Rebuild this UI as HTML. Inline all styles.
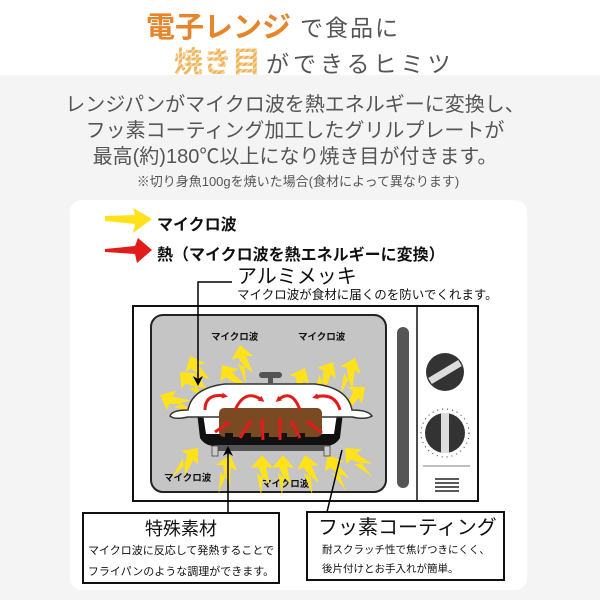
<!DOCTYPE html>
<html><head><meta charset="utf-8"><style>
body{margin:0;width:600px;height:600px;overflow:hidden;background:#f4f4f4;font-family:"Liberation Sans","Noto Sans CJK JP",sans-serif}
svg{display:block}
</style></head><body>
<svg width="600" height="600" viewBox="0 0 600 600" xmlns="http://www.w3.org/2000/svg" font-family="'Liberation Sans','Noto Sans CJK JP',sans-serif">
<defs>
<path id="ya" d="M0,0 L11,13 L4,12 L8,30 L1,22 L-1,40 L-5,18 L1,23 L-4,12 L-11,13 Z" fill="#ffe21a"/>
<marker id="rh" markerWidth="6" markerHeight="6" refX="3" refY="3" orient="auto" markerUnits="userSpaceOnUse"><path d="M0,0 L6,3 L0,6 Z" fill="#e21b1b"/></marker>
<marker id="bh" markerWidth="10" markerHeight="10" refX="8" refY="5" orient="auto" markerUnits="userSpaceOnUse"><path d="M0,0 L10,5 L0,10 L3,5 Z" fill="#000"/></marker>
<pattern id="st" width="4" height="4" patternUnits="userSpaceOnUse" patternTransform="rotate(45)"><rect width="4" height="4" fill="#f0b45a"/><rect width="1.5" height="4" fill="#f8d9a5"/></pattern>
</defs>
<rect x="0" y="0" width="600" height="75" fill="#fff"/>
<text x="146" y="37" font-size="29" font-weight="bold" fill="#e8842a">電子レンジ</text>
<text x="300" y="36" font-size="23" fill="#555" letter-spacing="2">で食品に</text>
<text x="174" y="72" font-size="29" font-weight="bold" fill="url(#st)">焼き目</text>
<text x="266" y="72" font-size="23" fill="#555" letter-spacing="4">ができるヒミツ</text>
<g font-size="20" fill="#555" text-anchor="middle">
<text x="295" y="111">レンジパンがマイクロ波を熱エネルギーに変換し、</text>
<text x="295" y="137">フッ素コーティング加工したグリルプレートが</text>
<text x="295" y="163">最高(約)180℃以上になり焼き目が付きます。</text>
</g>
<text x="298" y="186" font-size="13" fill="#555" text-anchor="middle">※切り身魚100gを焼いた場合(食材によって異なります)</text>
<rect x="70" y="200" width="457" height="390" rx="12" fill="#fff"/>
<polygon points="105,216 135,215 133,208 152,219 133,233 135,224 105,221" fill="#ffe21a"/>
<text x="157" y="230" font-size="16" font-weight="bold" fill="#111">マイクロ波</text>
<polygon points="105,249 135,246 138,238 152,250 137,263 135,254 105,252" fill="#e21b1b"/>
<text x="157" y="260" font-size="16" font-weight="bold" fill="#111">熱（マイクロ波を熱エネルギーに変換）</text>
<text x="237" y="283" font-size="20" fill="#111">アルミメッキ</text>
<text x="237" y="299" font-size="12.5" fill="#111">マイクロ波が食材に届くのを防いでくれます。</text>
<rect x="133" y="306" width="345" height="195" fill="#fff" stroke="#111" stroke-width="2"/>
<line x1="417" y1="306" x2="417" y2="501" stroke="#111" stroke-width="1.5"/>
<rect x="151" y="315" width="235" height="177" rx="12" fill="#c5c5c5" stroke="#222" stroke-width="2"/>
<rect x="397" y="327" width="12" height="161" rx="6" fill="#555"/>
<circle cx="445" cy="372" r="19" fill="#333"/>
<line x1="430" y1="381" x2="460" y2="363" stroke="#ddd" stroke-width="7"/>
<circle cx="445" cy="433" r="24" fill="none" stroke="#333" stroke-width="1" stroke-dasharray="1 4"/>
<circle cx="445" cy="433" r="20" fill="#333"/>
<rect x="441" y="413" width="8" height="40" fill="#ddd"/>
<line x1="423" y1="466" x2="470" y2="466" stroke="#aaa" stroke-width="1.5"/>
<g stroke="#222" stroke-width="1.5"><line x1="435" y1="479" x2="459" y2="479"/><line x1="435" y1="483" x2="459" y2="483"/><line x1="435" y1="487" x2="459" y2="487"/><line x1="435" y1="491" x2="459" y2="491"/></g>
<g font-size="9.5" font-weight="bold" fill="#111">
<text x="211" y="340">マイクロ波</text><text x="298" y="340">マイクロ波</text>
<text x="164" y="481">マイクロ波</text><text x="262" y="487">マイクロ波</text>
</g>
<g>
<use href="#ya" transform="translate(180,372) rotate(-45)"/>
<use href="#ya" transform="translate(160,395) rotate(-65)"/>
<use href="#ya" transform="translate(190,356) rotate(-25)"/>
<use href="#ya" transform="translate(222,365) rotate(-35)"/>
<use href="#ya" transform="translate(240,345) rotate(-10)"/>
<use href="#ya" transform="translate(305,368) rotate(25)"/>
<use href="#ya" transform="translate(333,362) rotate(30)"/>
<use href="#ya" transform="translate(365,387) rotate(50)"/>
<use href="#ya" transform="translate(355,358) rotate(20)"/>
<use href="#ya" transform="translate(198,448) rotate(40)"/>
<use href="#ya" transform="translate(230,455) rotate(15)"/>
<use href="#ya" transform="translate(262,455) rotate(0)"/>
<use href="#ya" transform="translate(283,455) rotate(0)"/>
<use href="#ya" transform="translate(305,455) rotate(-12)"/>
<use href="#ya" transform="translate(328,455) rotate(-28)"/>
<use href="#ya" transform="translate(345,448) rotate(-45)"/>
</g>
<path d="M197,412 L343,412 L340,438 Q335,446 325,446 L215,446 Q205,446 200,438 Z" fill="#111"/>
<path d="M203,414 L337,414 L334,434 L206,434 Z" fill="#fff"/>
<rect x="214" y="445" width="115" height="6" fill="#555"/>
<rect x="212" y="446" width="6" height="10" fill="#ccc" stroke="#444" stroke-width="0.8"/>
<rect x="324" y="446" width="6" height="10" fill="#ccc" stroke="#444" stroke-width="0.8"/>
<path d="M170,416 Q172,410 188,410 Q192,388 225,384 L315,384 Q348,388 352,410 Q368,410 372,416 Q366,420 352,417 L188,417 Q174,420 170,416 Z" fill="#fff" stroke="#333" stroke-width="1.5"/>
<rect x="268" y="376" width="5" height="8" fill="#555"/>
<rect x="259" y="372" width="23" height="6" rx="3" fill="#555"/>
<rect x="219" y="408" width="103" height="29" rx="5" fill="#7a4a22"/>
<g fill="#111"><rect x="225" y="433" width="8" height="6"/><rect x="243" y="433" width="8" height="6"/><rect x="261" y="433" width="8" height="6"/><rect x="279" y="433" width="8" height="6"/><rect x="297" y="433" width="8" height="6"/></g>
<g stroke="#e21b1b" stroke-width="3" fill="none" marker-end="url(#rh)">
<path d="M205,410 Q205,393 225,396"/>
<path d="M235,410 Q245,388 262,400"/>
<path d="M300,410 Q292,388 278,400"/>
<path d="M340,410 Q335,392 315,397"/>
<path d="M215,432 L228,423"/><path d="M240,438 L250,422"/><path d="M263,440 L262,420"/>
<path d="M280,440 L280,420"/><path d="M300,438 L292,422"/><path d="M322,433 L308,422"/>
</g>
<g stroke="#000" stroke-width="1.5" fill="none">
<polyline points="232,282 198,282 198,384" marker-end="url(#bh)"/>
<line x1="228" y1="513" x2="228" y2="448" marker-end="url(#bh)"/>
<line x1="327" y1="512" x2="342" y2="450"/>
</g>
<rect x="83" y="513" width="196" height="70" fill="#fff" stroke="#111" stroke-width="2"/>
<text x="181" y="535" font-size="18" fill="#111" text-anchor="middle">特殊素材</text>
<text x="181" y="554" font-size="11" fill="#111" text-anchor="middle">マイクロ波に反応して発熱することで</text>
<text x="181" y="575" font-size="11" fill="#111" text-anchor="middle">フライパンのような調理ができます。</text>
<rect x="307" y="512" width="197" height="68" fill="#fff" stroke="#111" stroke-width="2"/>
<text x="318" y="534" font-size="20" fill="#111">フッ素コーティング</text>
<text x="322" y="553" font-size="10.5" fill="#111">耐スクラッチ性で焦げつきにくく、</text>
<text x="322" y="572" font-size="10.5" fill="#111">後片付けとお手入れが簡単。</text>
</svg>
</body></html>
